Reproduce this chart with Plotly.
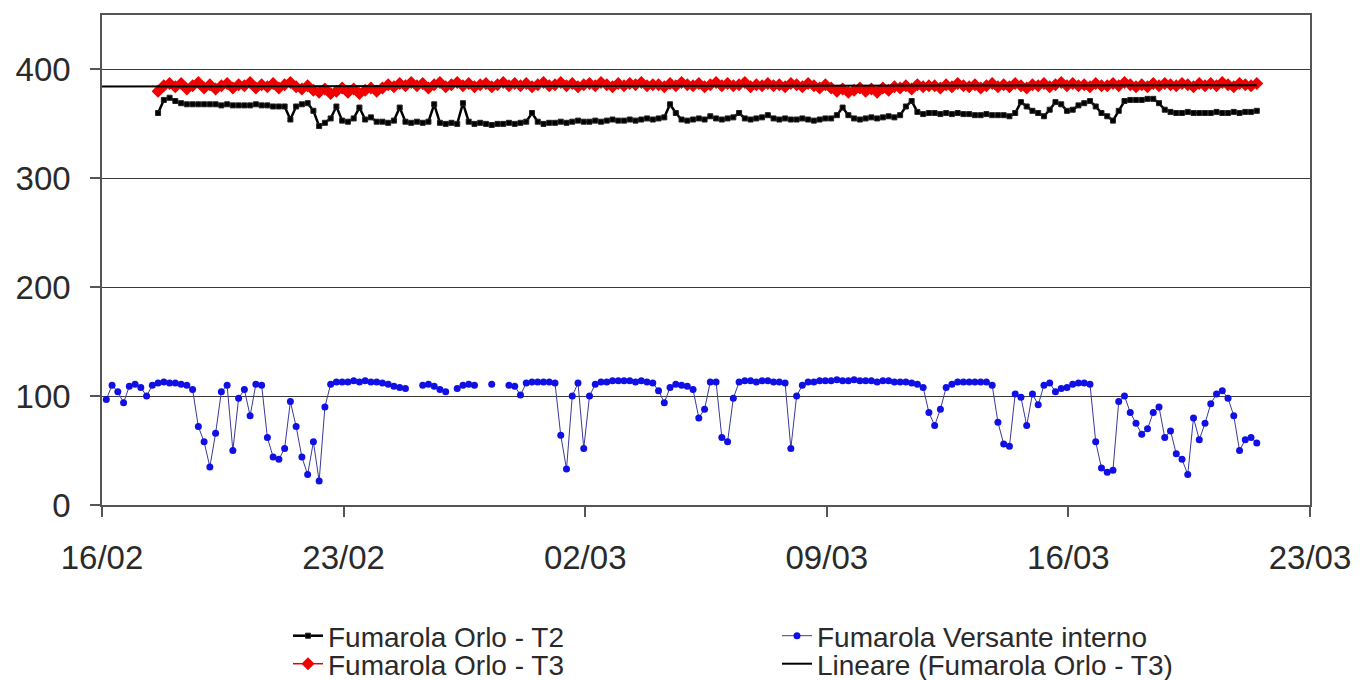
import numpy as np
import pandas as pd
import plotly.graph_objects as go

# ---------------- data (4-hour sampling) ----------------
versante_start = "2010-02-16 03:00"
orlo_start = "2010-02-17 15:00"

versante = [
    97, 110, 104, 94, 109, 111,
    108, 100, 110, 112, 113, 112,
    112, 111, 110, 106, 72, 58,
    35, 66, 104, 110, 50, 98,
    106, 82, 111, 110, 62, 44,
    42, 52, 95, 72, 44, 28,
    58, 22, 90, 111, 113, 113,
    113, 114, 113, 114, 113, 113,
    112, 111, 109, 108, 107, None,
    None, 110, 111, 109, 106, 104,
    None, 107, 110, 111, 110, None,
    None, 111, None, None, 110, 109,
    101, 112, 113, 113, 113, 113,
    112, 64, 33, 100, 112, 52,
    100, 111, 113, 113, 114, 114,
    114, 114, 113, 114, 113, 112,
    105, 94, 108, 111, 110, 109,
    106, 80, 88, 113, 113, 62,
    58, 98, 113, 114, 114, 113,
    114, 114, 113, 113, 112, 52,
    100, 110, 113, 113, 114, 114,
    114, 115, 114, 114, 115, 114,
    114, 114, 113, 114, 114, 113,
    113, 113, 112, 111, 108, 85,
    73, 88, 108, 111, 113, 113,
    113, 113, 113, 113, 110, 76,
    56, 54, 102, 99, 73, 102,
    92, 110, 112, 104, 107, 108,
    111, 112, 112, 111, 58, 34,
    30, 32, 95, 100, 85, 75,
    65, 70, 85, 90, 62, 68,
    47, 42, 28, 80, 60, 75,
    93, 102, 105, 98, 82, 50,
    60, 62, 57,
]

orlo_t2 = [
    360, 372, 374,
    371, 369, 368, 368, 368, 368,
    368, 368, 367, 368, 367, 367,
    367, 367, 368, 367, 367, 366,
    366, 366, 354, 366, 368, 369,
    362, 348, 351, 355, 366, 353,
    352, 355, 365, 354, 356, 352,
    352, 351, 353, 365, 352, 351,
    352, 351, 352, 368, 351, 350,
    351, 350, 369, 352, 350, 351,
    350, 349, 350, 350, 351, 350,
    351, 352, 360, 352, 350, 351,
    351, 352, 351, 352, 353, 352,
    352, 353, 352, 353, 354, 353,
    353, 354, 353, 354, 355, 354,
    355, 356, 368, 360, 354, 353,
    354, 355, 354, 357, 355, 354,
    355, 356, 360, 355, 354, 355,
    356, 358, 355, 354, 355, 354,
    354, 355, 354, 353, 354, 355,
    355, 358, 365, 358, 355, 354,
    355, 356, 355, 356, 357, 356,
    358, 366, 371, 361, 359, 360,
    360, 359, 360, 359, 360, 359,
    359, 358, 358, 359, 358, 358,
    358, 357, 360, 370, 366, 362,
    360, 357, 363, 370, 368, 362,
    363, 367, 369, 371, 366, 360,
    357, 353, 362, 371, 372, 372,
    372, 373, 373, 369, 363, 361,
    360, 360, 361, 360, 360, 360,
    360, 361, 360, 360, 361, 360,
    361, 361, 362,
]

orlo_t3 = [
    380, 385, 387,
    384, 387, 382, 385, 388, 383,
    386, 382, 385, 387, 383, 386,
    385, 388, 383, 386, 384, 387,
    383, 386, 388, 384, 382, 385,
    381, 379, 382, 378, 380, 383,
    379, 382, 378, 381, 383, 380,
    383, 386, 384, 387, 385, 388,
    385, 387, 383, 386, 388, 384,
    386, 388, 385, 387, 384, 386,
    387, 384, 386, 388, 385, 387,
    385, 387, 384, 386, 388, 385,
    386, 388, 385, 387, 384, 386,
    387, 385, 388, 386, 384, 387,
    385, 387, 386, 388, 385, 386,
    386, 384, 387, 385, 388, 386,
    385, 387, 384, 386, 388, 385,
    387, 385, 386, 388, 384, 386,
    385, 387, 385, 386, 384, 387,
    386, 384, 387, 385, 383, 386,
    383, 380, 382, 379, 381, 383,
    380, 382, 379, 383, 381, 384,
    383, 385, 382, 386, 384, 385,
    385, 383, 386, 384, 387, 385,
    384, 386, 383, 385, 387, 384,
    386, 384, 387, 385, 383, 386,
    385, 387, 384, 386, 388, 385,
    387, 385, 386, 384, 387, 385,
    385, 387, 385, 388, 386, 384,
    386, 384, 387, 385, 387, 386,
    385, 387, 386, 384, 387, 385,
    387, 385, 388, 386, 384, 387,
    386, 385, 387,
]

x_range = ["2010-02-16", "2010-03-23"]
tick_dates = ["2010-02-16", "2010-02-23", "2010-03-02", "2010-03-09", "2010-03-16", "2010-03-23"]
tick_labels = ["16/02", "23/02", "02/03", "09/03", "16/03", "23/03"]
y_ticks = [0, 100, 200, 300, 400]

names = ["Fumarola Orlo - T2", "Fumarola Versante interno",
         "Fumarola Orlo - T3", "Lineare (Fumarola Orlo - T3)"]

# ---------------- derived ----------------
t_vers = pd.date_range(versante_start, periods=len(versante), freq="4h")
t_orlo = pd.date_range(orlo_start, periods=len(orlo_t2), freq="4h")

# linear trend of T3 (computed from the data, extended back to the axis start)
origin = pd.Timestamp(x_range[0])
days = (t_orlo - origin) / pd.Timedelta(days=1)
slope, intercept = np.polyfit(np.asarray(days, dtype=float), np.asarray(orlo_t3, dtype=float), 1)
trend_x = [origin, t_orlo[-1]]
trend_days = [0.0, float(days[-1])]
trend_y = [intercept + slope * d for d in trend_days]

FONT = "Liberation Sans, Arial, sans-serif"
TXT = "#2a2a2a"

fig = go.Figure()
fig.add_trace(go.Scatter(
    x=t_orlo, y=orlo_t2, name=names[0], mode="lines+markers",
    line=dict(color="black", width=2.5),
    marker=dict(symbol="square", size=5, color="black", line=dict(width=1, color="#222222")),
    legend="legend",
))
fig.add_trace(go.Scatter(
    x=t_vers, y=versante, name=names[1], mode="lines+markers",
    line=dict(color="#3a3a9a", width=1),
    marker=dict(symbol="circle", size=7, color="#1010e6"),
    legend="legend2",
))
fig.add_trace(go.Scatter(
    x=t_orlo, y=orlo_t3, name=names[2], mode="lines+markers",
    line=dict(color="#e60000", width=1.5),
    marker=dict(symbol="diamond", size=10, color="#f00000"),
    legend="legend3",
))
fig.add_trace(go.Scatter(
    x=trend_x, y=trend_y, name=names[3], mode="lines",
    line=dict(color="black", width=2),
    legend="legend4",
))

# page body has an 8px margin: screen = figure + 8
# plot area on screen: x 102..1310 px, y 15..505 px
def px_x(p):
    return (p - 102) / 1208.0

def px_y(p):
    return (505 - p) / 490.0

leg_common = dict(xref="paper", yref="paper", xanchor="left", yanchor="middle",
                  orientation="v", bgcolor="rgba(0,0,0,0)", borderwidth=0,
                  font=dict(family=FONT, size=28, color=TXT))

fig.update_layout(
    width=1352, height=672,
    margin=dict(l=94, r=50, t=7, b=175, autoexpand=False),
    paper_bgcolor="white", plot_bgcolor="white",
    font=dict(family=FONT, color=TXT),
    showlegend=True,
    legend=dict(x=px_x(288), y=px_y(636), **leg_common),
    legend2=dict(x=px_x(777), y=px_y(636), **leg_common),
    legend3=dict(x=px_x(288), y=px_y(664), **leg_common),
    legend4=dict(x=px_x(777), y=px_y(664), **leg_common),
)

fig.update_xaxes(
    range=x_range, tickvals=tick_dates, ticktext=tick_labels,
    showgrid=False, zeroline=False, automargin=False,
    showline=True, linecolor="#555555", linewidth=1.5, mirror=True,
    ticks="outside", ticklen=10, tickcolor="#555555", tickwidth=1.5,
    tickfont=dict(family=FONT, size=33, color=TXT),
    ticklabelstandoff=13, tickangle=0,
)
fig.update_yaxes(
    range=[0, 450], tickvals=y_ticks,
    showgrid=True, gridcolor="#3a3a3a", gridwidth=1.2, zeroline=False, automargin=False,
    showline=True, linecolor="#555555", linewidth=1.5, mirror=True,
    ticks="outside", ticklen=10, tickcolor="#555555", tickwidth=1.5,
    tickfont=dict(family=FONT, size=33, color=TXT),
    ticklabelstandoff=13,
)

fig.write_html("out.html")
